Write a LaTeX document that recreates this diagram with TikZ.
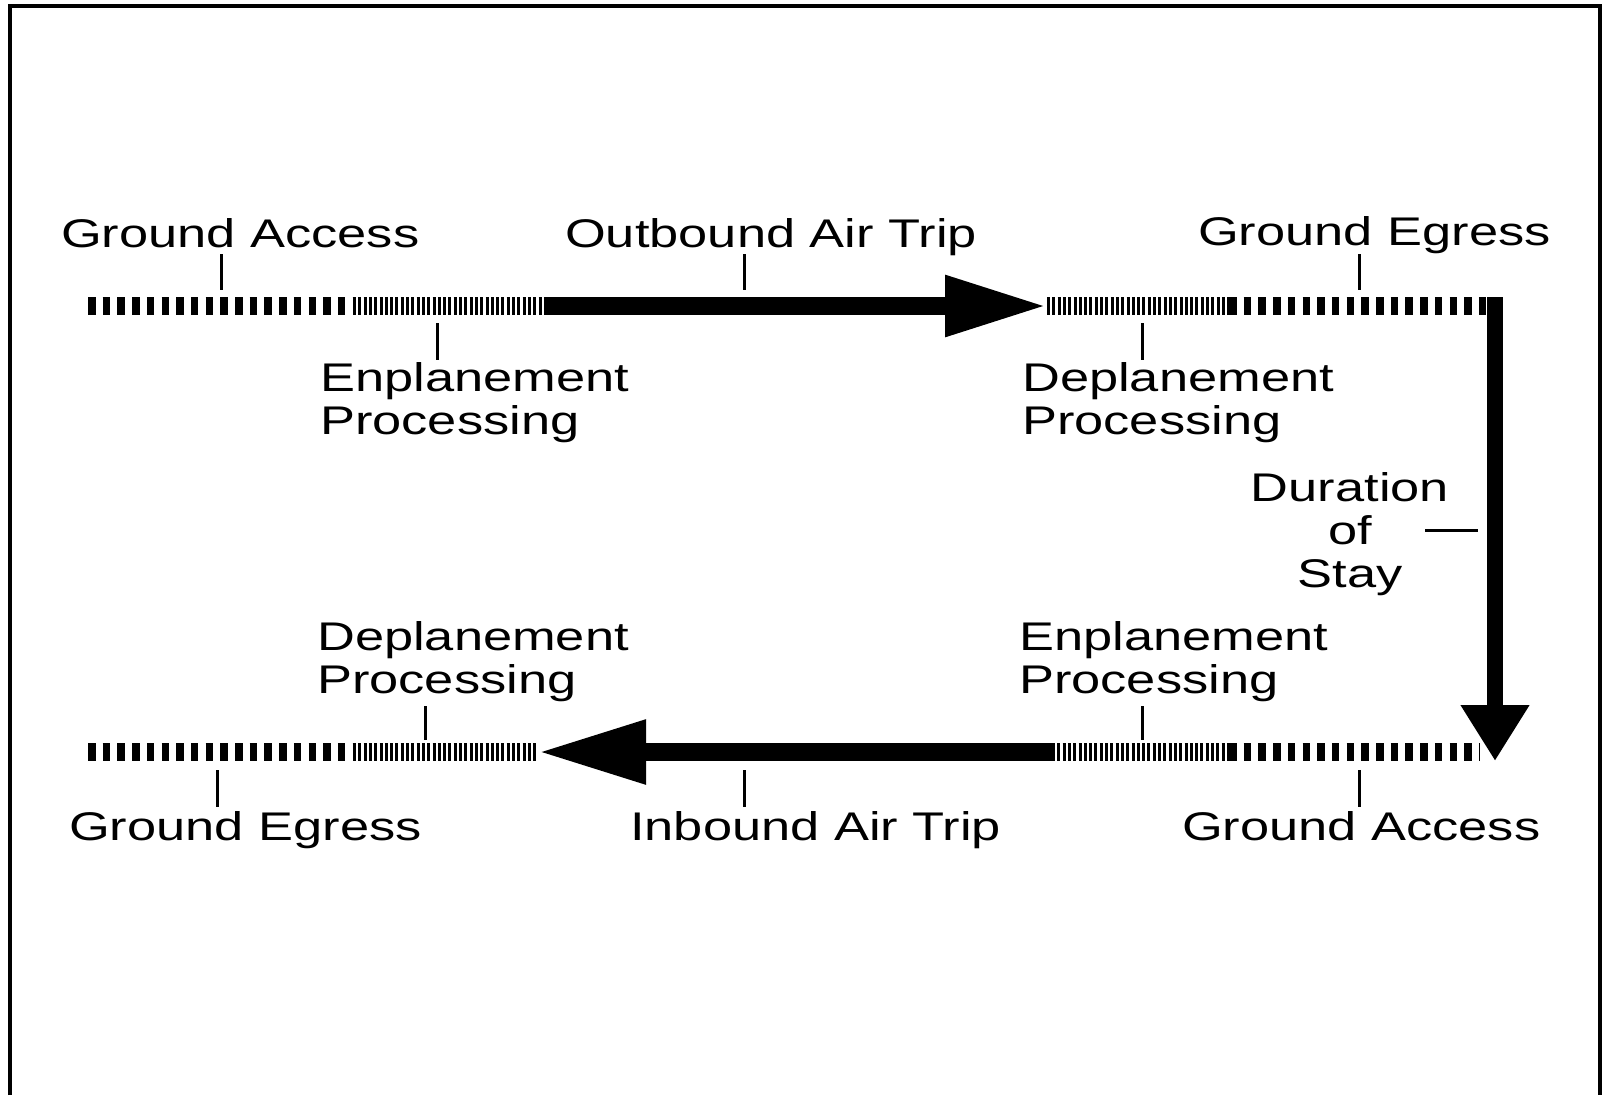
\documentclass[tikz,border=0pt]{standalone}
\usepackage{fontspec}
\setmainfont{Liberation Sans}
\usepackage{graphicx}
\usetikzlibrary{arrows.meta}
\newcommand{\mylbl}[2][l]{\scalebox{1.31}[1]{\begin{tabular}[t]{@{}#1@{}}#2\end{tabular}}}
\begin{document}
\begin{tikzpicture}[x=1pt,y=-1pt,
  lbl/.style={inner sep=0pt, anchor=base west, font=\fontsize{40}{43}\selectfont},
  thickdash/.style={line width=18pt, dash pattern=on 7.5pt off 7.2pt},
  thindash/.style={line width=18pt, dash pattern=on 3pt off 2.3pt},
  solidbar/.style={line width=18pt},
  tick/.style={line width=3pt},
  frame/.style={line width=3.5pt}
]
\useasboundingbox (0,0) rectangle (1602,1095);
\draw[frame] (10,1095) -- (10,6) -- (1600,6) -- (1600,1095);

% top row coordinates
\coordinate (a1) at (88,306);
\coordinate (a2) at (353,306);
\coordinate (a3) at (545,306);
\coordinate (a4) at (1047,306);
\coordinate (a5) at (1229,306);
\coordinate (a6) at (1487,306);
% vertical
\coordinate (v1) at (1495,297);
\coordinate (v2) at (1495,761);
% bottom row coordinates
\coordinate (b1) at (88,752);
\coordinate (b2) at (353,752);
\coordinate (b3) at (538,752);
\coordinate (b4) at (1052,752);
\coordinate (b5) at (1229,752);
\coordinate (b6) at (1480,752);

% top row
\draw[thickdash] (a1) -- (a2);
\draw[thindash] (a2) -- (a3);
\draw[solidbar, -{Triangle[length=102pt,width=57pt]}] (a3) -- (a4);
\draw[thindash] (a4) -- (a5);
\draw[thickdash] (a5) -- (a6);
% duration of stay
\draw[line width=16pt, -{Triangle[length=56pt,width=65pt]}] (v1) -- (v2);
% bottom row
\draw[thickdash] (b1) -- (b2);
\draw[thindash] (b2) -- (b3);
\draw[solidbar, -{Triangle[length=108pt,width=60pt]}] (b4) -- (b3);
\draw[thindash] (b4) -- (b5);
\draw[thickdash] (b5) -- (b6);

% labels
\node[lbl] (ga1) at (61,247) {\mylbl{Ground Access}};
\node[lbl] (oat) at (565,247) {\mylbl{Outbound Air Trip}};
\node[lbl] (ge1) at (1198,245) {\mylbl{Ground Egress}};
\node[lbl] (ep1) at (320,391) {\mylbl{Enplanement\\Processing}};
\node[lbl] (dp1) at (1022,391) {\mylbl{Deplanement\\Processing}};
\node[lbl, anchor=base] (dur) at (1350,501) {\mylbl[c]{Duration\\of\\Stay}};
\node[lbl] (dp2) at (317,650) {\mylbl{Deplanement\\Processing}};
\node[lbl] (ep2) at (1019,650) {\mylbl{Enplanement\\Processing}};
\node[lbl] (ge2) at (69,840) {\mylbl{Ground Egress}};
\node[lbl] (iat) at (630,840) {\mylbl{Inbound Air Trip}};
\node[lbl] (ga2) at (1182,840) {\mylbl{Ground Access}};

% ticks
\coordinate (tga1a) at (221,254);  \coordinate (tga1b) at (221,290);
\coordinate (toata) at (744,254);  \coordinate (toatb) at (744,290);
\coordinate (tge1a) at (1359,254); \coordinate (tge1b) at (1359,290);
\coordinate (tep1a) at (437,323);  \coordinate (tep1b) at (437,360);
\coordinate (tdp1a) at (1142,323); \coordinate (tdp1b) at (1142,360);
\coordinate (tdura) at (1425,530); \coordinate (tdurb) at (1478,530);
\coordinate (tdp2a) at (425,706);  \coordinate (tdp2b) at (425,740);
\coordinate (tep2a) at (1142,706); \coordinate (tep2b) at (1142,740);
\coordinate (tge2a) at (217,770);  \coordinate (tge2b) at (217,807);
\coordinate (tiata) at (744,770);  \coordinate (tiatb) at (744,807);
\coordinate (tga2a) at (1359,770); \coordinate (tga2b) at (1359,807);
\foreach \t in {tga1,toat,tge1,tep1,tdp1,tdur,tdp2,tep2,tge2,tiat,tga2}
  \draw[tick] (\t a) -- (\t b);
\end{tikzpicture}
\end{document}
